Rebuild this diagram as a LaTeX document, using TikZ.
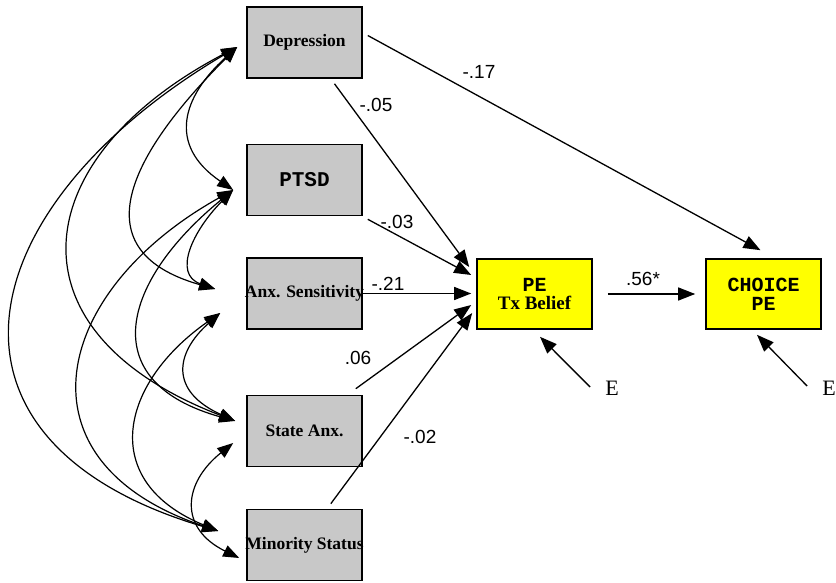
\documentclass[tikz,border=0pt]{standalone}
\usepackage{fontspec}
\setmainfont{Liberation Serif}
\newfontfamily\labfont{Liberation Sans}
\newfontfamily\monofont{Liberation Mono}
\usetikzlibrary{arrows.meta,calc}
\definecolor{boxgray}{RGB}{200,200,200}
\definecolor{peyellow}{RGB}{255,255,0}
\begin{document}
\begin{tikzpicture}[x=1pt,y=-1pt,
  gbox/.style={draw=black,line width=1.6pt,fill=boxgray,minimum width=115pt,minimum height=71pt,inner sep=0pt,font=\bfseries\fontsize{17.5}{20}\selectfont},
  ybox/.style={draw=black,line width=1.6pt,fill=peyellow,minimum width=115pt,minimum height=70pt,inner sep=0pt,align=center,font=\fontsize{20}{19}\selectfont},
  arr/.style={line width=1.3pt,-{Triangle[length=17pt,width=13pt]}},
  cov/.style={line width=1.2pt,{Triangle[length=16pt,width=12pt]}-{Triangle[length=16pt,width=12pt]}},
  coef/.style={font=\labfont\fontsize{19}{20}\selectfont,inner sep=0pt},
  err/.style={font=\fontsize{22}{24}\selectfont,inner sep=0pt}]
\useasboundingbox (0,0) rectangle (836,583);

% boxes
\node[gbox] (dep) at (304.5,42.5) {Depression};
\node[gbox,font=\monofont\bfseries\fontsize{21}{22}\selectfont] (ptsd) at (304.5,180) {PTSD};
\node[gbox] (anx) at (304.5,293.5) {\makebox[0pt]{Anx. Sensitivity}};
\node[gbox] (state) at (304.5,431) {State Anx.};
\node[gbox] (minor) at (304.5,545) {\makebox[0pt]{Minority Status}};
\node[ybox] (pe) at (534.5,294) {{\monofont\bfseries PE}\\{\bfseries\fontsize{19}{19}\selectfont Tx Belief}};
\node[ybox] (choice) at (763.5,294) {{\monofont\bfseries CHOICE}\\{\monofont\bfseries PE}};
\node[err] (e1) at (612,388) {E};
\node[err] (e2) at (829,388) {E};

% covariance tips
\coordinate (tD) at ($(dep.west)+(-9,4.5)$);
\coordinate (tP) at ($(ptsd.west)+(-13,10)$);
\coordinate (tA1) at ($(anx.west)+(-31,-4.5)$);
\coordinate (tA2) at ($(anx.west)+(-26,19.5)$);
\coordinate (tS1) at ($(state.west)+(-11,-10)$);
\coordinate (tS2) at ($(state.west)+(-13,12)$);
\coordinate (tM1) at ($(minor.west)+(-28,-14)$);
\coordinate (tM2) at ($(minor.west)+(-7,13)$);

% covariances
\draw[cov] (tD) .. controls +(-55,50) and +(-66,-45) .. (tP);
\draw[cov] (tD) .. controls +(-100,100) and +(-141,-40) .. (tA1);
\draw[cov] (tD) .. controls +(-210,110) and +(-234,-90) .. (tS1);
\draw[cov] (tD) .. controls +(-270,160) and +(-303,-90) .. (tM1);
\draw[cov] (tP) .. controls +(-40,40) and +(-43,-15) .. (tA1);
\draw[cov] (tP) .. controls +(-110,90) and +(-143,-40) .. (tS1);
\draw[cov] (tP) .. controls +(-180,100) and +(-208,-70) .. (tM1);
\draw[cov] (tA2) .. controls +(-45,40) and +(-66,-30) .. (tS1);
\draw[cov] (tA2) .. controls +(-100,70) and +(-121,-50) .. (tM1);
\draw[cov] (tS2) .. controls +(-50,40) and +(-61,-30) .. (tM2);

% path tips at PE
\coordinate (pT1) at ($(pe.west)+(-7,-27)$);
\coordinate (pT2) at ($(pe.west)+(-5,-19)$);
\coordinate (pT3) at ($(pe.west)+(-5,-0.5)$);
\coordinate (pT4) at ($(pe.west)+(-5,11)$);
\coordinate (pT5) at ($(pe.west)+(-4,19)$);

% paths
\draw[arr] ([shift={(5,-7)}]dep.east) -- ([shift={(-3,-8)}]choice.north);
\draw[arr] ([shift={(30,5)}]dep.south) -- (pT1);
\draw[arr] ([shift={(5,3)}]ptsd.south east) -- (pT2);
\draw[arr] (anx.east) -- (pT3);
\draw[arr] ([shift={(-7,-6)}]state.north east) -- (pT4);
\draw[arr] ([shift={(-32,-5)}]minor.north east) -- (pT5);
\draw[arr] ([xshift=15]pe.east) -- ([xshift=-10]choice.west);
\draw[arr] ([shift={(-15,-1)}]e1.west) -- ([shift={(5.5,7)}]pe.south);
\draw[arr] ([shift={(-15,-2)}]e2.west) -- ([shift={(-6.5,5)}]choice.south);

% coefficients
\node[coef] (c17) at (479,72) {-.17};
\node[coef] (c05) at (376,105) {-.05};
\node[coef] (c03) at (397,222) {-.03};
\node[coef] (c21) at (388,284) {-.21};
\node[coef] (c06) at (358,358) {.06};
\node[coef] (c02) at (420,437) {-.02};
\node[coef] (c56) at (643,279) {.56*};
\end{tikzpicture}
\end{document}
